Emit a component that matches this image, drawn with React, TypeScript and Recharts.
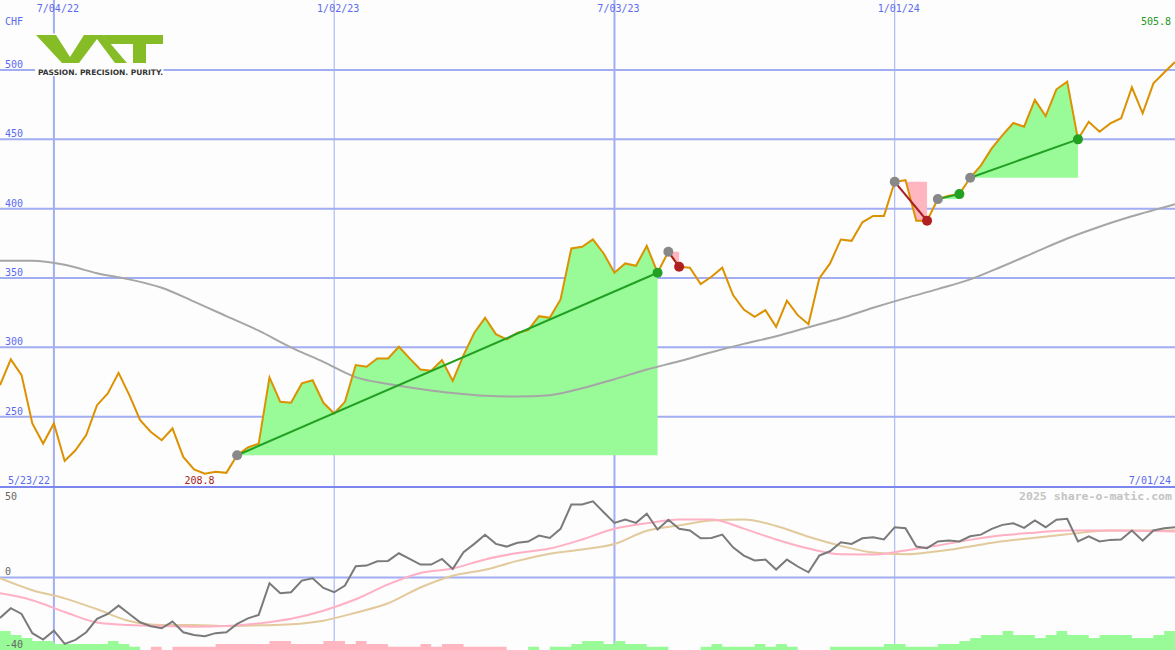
import React from "react";
import { ComposedChart, Line, Area, XAxis, YAxis, CartesianGrid } from "recharts";

// weekly closes, week 1 = 5/30/22 ... week 110 = 7/01/24
const price = [
  272.7, 291.3, 280.0, 245.1, 230.6, 245.1, 218.1, 225.8, 236.7, 258.3,
  266.7, 281.6, 265.5, 247.5, 239.0, 233.0, 241.5, 221.0, 211.9, 208.8,
  210.2, 209.5, 222.2, 227.8, 230.6, 278.3, 260.7, 260.0, 274.0, 276.3,
  260.0, 252.3, 260.7, 287.2, 286.0, 292.0, 292.0, 300.4, 292.0, 284.0,
  283.1, 290.8, 275.8, 294.4, 310.5, 321.3, 309.5, 305.7, 310.5, 312.4,
  322.5, 321.3, 334.5, 371.3, 372.5, 377.8, 367.7, 353.8, 360.5, 358.8,
  373.2, 353.8, 368.9, 358.1, 357.4, 345.6, 350.9, 357.4, 337.7, 327.3,
  322.0, 326.8, 314.8, 333.6, 323.2, 316.7, 349.7, 360.5, 377.8, 376.8,
  390.2, 394.8, 394.8, 419.4, 420.6, 391.3, 391.3, 406.9, 409.3, 410.5,
  422.3, 431.3, 443.5, 453.1, 461.8, 459.1, 478.4, 466.8, 486.1, 491.6,
  450.0, 462.7, 455.5, 461.5, 465.2, 487.5, 468.8, 490.4, 498.2, 505.8,
];

// long moving average (grey), read at a few weeks
const maWeeks = [1, 4, 7, 10, 13, 16, 19, 22, 25, 28, 31, 34, 37, 40, 43, 46, 49, 52, 55, 58, 61, 64, 67, 70, 73, 76, 79, 82, 85, 88, 91, 94, 97, 100, 103, 106, 110];
const maValues = [362.5, 362.5, 359.5, 353.5, 349, 343, 333, 322.5, 312, 300, 289.5, 278.5, 273.5, 270, 267, 265, 264.5, 265.5, 270.5, 277, 284, 290, 296.5, 302.5, 308, 314.5, 321, 328.5, 335.5, 342, 349, 358.5, 368.5, 378.5, 387, 394.5, 403.3];

// signals: start week -> end week
const tradeStart = [23, 63, 84, 88, 91];
const tradeEnd = [62, 64, 87, 90, 101];

// lower panel
const momentum = [
  -22.3, -16.9, -20.1, -30.7, -34.2, -29.3, -36.6, -34.4, -30.2, -22.8,
  -20.1, -15.5, -20.1, -24.7, -26.9, -28.0, -24.3, -30.2, -31.7, -32.4,
  -30.7, -30.2, -25.6, -22.5, -20.6, -3.1, -8.7, -8.1, -1.7, -0.4,
  -5.7, -8.1, -4.4, 6.3, 6.6, 9.0, 9.2, 13.4, 10.3, 7.2,
  7.2, 10.3, 4.8, 14.0, 18.6, 23.6, 18.6, 17.1, 19.2, 19.9,
  23.2, 21.9, 26.9, 40.3, 40.3, 42.1, 36.1, 30.2, 32.0, 30.2,
  35.2, 26.5, 31.9, 26.9, 26.0, 21.7, 21.9, 23.7, 16.7, 12.1,
  9.4, 9.9, 4.4, 9.9, 6.1, 2.9, 12.1, 14.5, 19.5, 18.6,
  21.7, 22.3, 21.0, 27.8, 27.2, 17.1, 16.2, 19.9, 20.4, 19.9,
  22.8, 23.7, 26.9, 29.1, 30.0, 27.4, 31.5, 27.8, 31.9, 32.4,
  19.9, 22.8, 19.9, 20.8, 21.0, 26.0, 20.4, 26.0, 27.2, 27.8,
];
const histogram = [
  10.5, 8.3, 6.6, 5, 5, 3.3, 3.3, 3.3, 3.3, 3.3,
  5, 3.3, 1.8, 0, -1.8, 0, -1.8, -1.8, -1.8, -1.8,
  -3.3, -3.3, -3.3, -3.3, -3.3, -5, -5, -3.3, -3.3, -3.3,
  -5, -5, -3.3, -5, -3.3, -3.3, -1.8, -1.8, -1.8, -3.3,
  -1.8, -3.3, -3.3, -1.8, -1.8, -1.8, -1.8, 0, 0, 1.8,
  0, 1.8, 1.8, 3.3, 5, 5, 3.3, 5, 3.3, 3.3,
  1.8, 1.8, 0, 0, 0, 1.8, 3.3, 1.8, 1.8, 1.8,
  3.3, 1.8, 3.3, 1.8, 0, 0, 0, 1.8, 1.8, 1.8,
  1.8, 1.8, 3.3, 3.3, 1.8, 1.8, 1.8, 3.3, 3.3, 5,
  6.6, 8.3, 8.3, 10.5, 8.3, 8.3, 6.6, 8.3, 10.5, 8.3,
  8.3, 6.6, 8.3, 8.3, 8.3, 6.6, 6.6, 8.3, 10.5, 10.5,
];
const avgWeeks = [1, 4, 7, 10, 13, 16, 19, 22, 25, 28, 31, 34, 37, 40, 43, 46, 49, 52, 55, 58, 61, 64, 67, 70, 73, 76, 79, 82, 85, 88, 91, 94, 97, 100, 104, 110];
const pinkAvg = [-8.7, -12.5, -19, -24.8, -26.2, -26.8, -27.1, -26.7, -25.3, -22.8, -18.3, -12, -3.8, 2.5, 5, 10, 13.5, 16, 21, 27, 30, 32, 32, 27, 21, 16, 12.8, 12.7, 15, 17.7, 20.8, 23.3, 24.8, 26, 26, 25.4];
const tanAvg = [-0.4, -7, -11.5, -17.5, -24, -26.2, -26.2, -26.8, -26.4, -25.8, -23.8, -19.4, -14.2, -5.5, 1, 4.3, 9.2, 13.2, 15.5, 18.5, 25.8, 28.8, 31.5, 32, 28.5, 22.5, 17.5, 13.8, 12.8, 14.5, 17.2, 20, 22, 23.9, 26, 26];

const dateTicks = [6, 32, 58, 84];
const dateLabels = ["7/04/22", "1/02/23", "7/03/23", "1/01/24"];
const priceTicks = [250, 300, 350, 400, 450, 500];
const lowTicks = [-40, 0, 50];

const W = 1175;
const MAIN_H = 486;
const LOW_H = 163;
const GRID = "#a2adf2";
const BLUE = "#5b6bef";
const MONO = "'DejaVu Sans Mono', monospace";
const GREEN_FILL = "#98fb98";
const PINK_FILL = "#ffb6c1";

const priceRows = price.map((p, i) => ({ w: i + 1, p }));
const maRows = maWeeks.map((w, i) => ({ w, v: maValues[i] }));
const lowRows = momentum.map((m, i) => ({
  w: i + 1,
  m,
  up: histogram[i] > 0 ? -40 + histogram[i] : -40,
  down: histogram[i] < 0 ? -40 - histogram[i] : -40,
}));
const pinkRows = avgWeeks.map((w, i) => ({ w, v: pinkAvg[i] }));
const tanRows = avgWeeks.map((w, i) => ({ w, v: tanAvg[i] }));

const trades = tradeStart.map((s, i) => {
  const e = tradeEnd[i];
  const base = price[s - 1];
  const win = price[e - 1] >= base;
  return {
    s,
    e,
    base,
    win,
    rows: priceRows.filter((r) => r.w >= s && r.w <= e),
    ends: [priceRows[s - 1], priceRows[e - 1]],
  };
});

const DateTick = (props: any) => {
  const label = dateLabels[dateTicks.indexOf(props.payload.value)];
  return (
    <text x={props.x + 4} y={12} textAnchor="middle" fill={BLUE} fontSize={10} fontFamily={MONO}>
      {label}
    </text>
  );
};

const PriceTick = (props: any) => (
  <text x={5} y={props.y - 2} fill={BLUE} fontSize={10} fontFamily={MONO}>
    {props.payload.value}
  </text>
);

const LowTick = (props: any) => {
  const v = props.payload.value;
  return (
    <text x={5} y={v === 50 ? props.y + 13 : props.y - 2.5} fill="#666" fontSize={10} fontFamily={MONO}>
      {v}
    </text>
  );
};

const zeroMargin = { top: 0, right: 0, bottom: 0, left: 0 };

export default function App() {
  const minPrice = Math.min(...price);
  const lastPrice = price[price.length - 1];

  return (
    <div style={{ position: "absolute", left: 0, top: 0, width: W, height: 650, background: "#fcfdfc", overflow: "hidden" }}>
      <style>{"body{margin:0}"}</style>

      <div style={{ position: "absolute", left: 0, top: 0 }}>
        <ComposedChart width={W} height={MAIN_H} data={priceRows} margin={zeroMargin}>
          <CartesianGrid horizontalValues={priceTicks} verticalValues={[6, 58]} stroke={GRID} strokeWidth={2} />
          <CartesianGrid horizontal={false} verticalValues={[32, 84]} stroke={GRID} strokeWidth={1} />
          <XAxis
            dataKey="w"
            type="number"
            domain={[1, 110]}
            allowDataOverflow
            orientation="top"
            mirror
            ticks={dateTicks}
            interval={0}
            axisLine={false}
            tickLine={false}
            tick={DateTick}
          />
          <YAxis
            type="number"
            domain={[200, 550.5]}
            allowDataOverflow
            mirror
            ticks={priceTicks}
            interval={0}
            axisLine={false}
            tickLine={false}
            tick={PriceTick}
          />
          {trades.map((t) => (
            <Area
              key={`fill-${t.s}`}
              data={t.rows}
              dataKey="p"
              type="linear"
              baseValue={t.base}
              stroke="none"
              fill={t.win ? GREEN_FILL : PINK_FILL}
              fillOpacity={1}
              activeDot={false}
              isAnimationActive={false}
            />
          ))}
          <Line data={maRows} dataKey="v" type="monotone" stroke="#a6a6a6" strokeWidth={2} dot={false} activeDot={false} isAnimationActive={false} />
          <Line dataKey="p" type="linear" stroke="#dc9100" strokeWidth={2} dot={false} activeDot={false} isAnimationActive={false} />
          {trades.map((t) => (
            <Line
              key={`link-${t.s}`}
              data={t.ends}
              dataKey="p"
              type="linear"
              stroke={t.win ? "#22a022" : "#a52020"}
              strokeWidth={2}
              activeDot={false}
              isAnimationActive={false}
              dot={(d: any) => (
                <circle
                  key={`dot-${t.s}-${d.index}`}
                  cx={d.cx}
                  cy={d.cy}
                  r={5}
                  fill={d.index === 0 ? "#888888" : t.win ? "#22a022" : "#b02020"}
                  stroke="none"
                />
              )}
            />
          ))}
        </ComposedChart>
      </div>

      <div style={{ position: "absolute", left: 0, top: 487 }}>
        <ComposedChart width={W} height={LOW_H} data={lowRows} margin={zeroMargin}>
          <CartesianGrid horizontalValues={[0]} verticalValues={[6, 58]} stroke={GRID} strokeWidth={2} />
          <CartesianGrid horizontal={false} verticalValues={[32, 84]} stroke={GRID} strokeWidth={1} />
          <XAxis dataKey="w" type="number" domain={[1, 110]} allowDataOverflow hide />
          <YAxis
            type="number"
            domain={[-40, 50]}
            allowDataOverflow
            mirror
            ticks={lowTicks}
            interval={0}
            axisLine={false}
            tickLine={false}
            tick={LowTick}
          />
          <Area dataKey="up" type="stepAfter" baseValue={-40} stroke="none" fill={GREEN_FILL} fillOpacity={1} activeDot={false} isAnimationActive={false} />
          <Area dataKey="down" type="stepAfter" baseValue={-40} stroke="none" fill={PINK_FILL} fillOpacity={1} activeDot={false} isAnimationActive={false} />
          <Line data={tanRows} dataKey="v" type="monotone" stroke="#e2ca9c" strokeWidth={2} dot={false} activeDot={false} isAnimationActive={false} />
          <Line data={pinkRows} dataKey="v" type="monotone" stroke="#ffb0c4" strokeWidth={2} dot={false} activeDot={false} isAnimationActive={false} />
          <Line dataKey="m" type="linear" stroke="#7a7a7a" strokeWidth={2} dot={false} activeDot={false} isAnimationActive={false} />
        </ComposedChart>
      </div>

      <svg width={W} height={650} style={{ position: "absolute", left: 0, top: 0, pointerEvents: "none" }}>
        <rect x={0} y={486} width={W} height={2} fill="#7b87ee" />
        <rect x={35} y={33.5} width={128.5} height={42.5} fill="#fcfdfc" />
        <polygon points="36,35 56,35 70,57 84,35 103,35 127,63 115,63 97,39 79,63 62,63" fill="#86bc25" />
        <polygon points="103,35 163,35 163,44 146,44 146,63 133,63 133,44 110,44" fill="#86bc25" />
        <text x={38} y={75} fontSize={7.5} fontFamily="'DejaVu Sans', sans-serif" fontWeight="bold" fill="#333" textLength={125} lengthAdjust="spacingAndGlyphs">
          PASSION. PRECISION. PURITY.
        </text>
        <text x={5} y={25} fill={BLUE} fontSize={10} fontFamily={MONO}>CHF</text>
        <text x={1171} y={25} textAnchor="end" fill="#229922" fontSize={10} fontFamily={MONO}>{lastPrice.toFixed(1)}</text>
        <text x={8} y={484} fill={BLUE} fontSize={10} fontFamily={MONO}>5/23/22</text>
        <text x={1171} y={484} textAnchor="end" fill={BLUE} fontSize={10} fontFamily={MONO}>7/01/24</text>
        <text x={199.5} y={484} textAnchor="middle" fill="#aa2222" fontSize={10} fontFamily={MONO}>{minPrice.toFixed(1)}</text>
        <text x={1172} y={500} textAnchor="end" fill="#c4c4c4" fontSize={11} fontWeight="bold" fontFamily={MONO} textLength={153} lengthAdjust="spacingAndGlyphs">
          2025 share-o-matic.com
        </text>
      </svg>
    </div>
  );
}
